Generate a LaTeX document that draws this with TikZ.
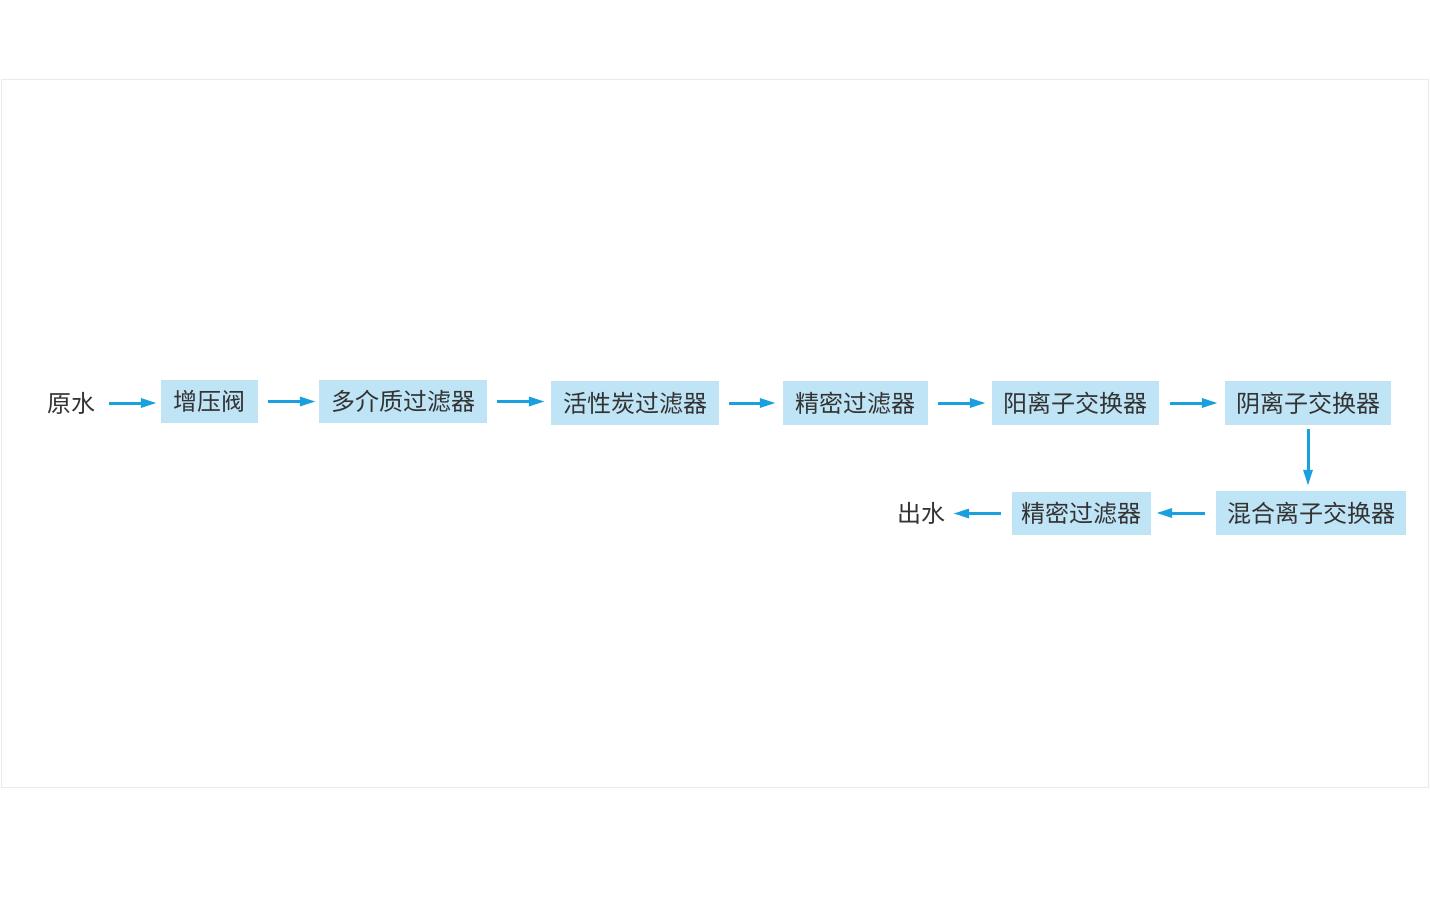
\documentclass[tikz,border=0pt]{standalone}
\usepackage{fontspec}
\setmainfont{Noto Sans CJK SC}
\usetikzlibrary{arrows.meta}
\definecolor{boxfill}{HTML}{BEE4F6}
\definecolor{arrowc}{HTML}{1BA0DF}
\definecolor{txt}{HTML}{333333}
\definecolor{frame}{HTML}{E4ECEC}
\begin{document}
\begin{tikzpicture}[x=1pt,y=-1pt,
  box/.style={fill=boxfill,inner sep=0pt,text=txt,font=\fontsize{24pt}{26pt}\selectfont},
  plain/.style={inner sep=0pt,text=txt,font=\fontsize{24pt}{26pt}\selectfont},
  arr/.style={draw=arrowc,line width=3pt,-{Triangle[length=16pt,width=9pt]}}]
\useasboundingbox (0,0) rectangle (1430,900);
\draw[frame,line width=1pt] (1,79.5) rectangle (1428.5,787);
\node[plain] (raw) at (71,403) {原水};
\node[box,minimum width=97pt,minimum height=43pt] (b1) at (209.5,401.5) {\raisebox{-2pt}{增压阀}};
\node[box,minimum width=168pt,minimum height=43pt] (b2) at (403,401.5) {\raisebox{-2pt}{多介质过滤器}};
\node[box,minimum width=168pt,minimum height=44pt] (b3) at (635,403) {\raisebox{-2pt}{活性炭过滤器}};
\node[box,minimum width=145pt,minimum height=44pt] (b4) at (855.5,403) {\raisebox{-2pt}{精密过滤器}};
\node[box,minimum width=167pt,minimum height=44pt] (b5) at (1075.5,403) {\raisebox{-2pt}{阳离子交换器}};
\node[box,minimum width=166pt,minimum height=44pt] (b6) at (1308,403) {\raisebox{-2pt}{阴离子交换器}};
\node[box,minimum width=190pt,minimum height=44pt] (b7) at (1311,513) {\raisebox{-2pt}{混合离子交换器}};
\node[box,minimum width=139pt,minimum height=43pt] (b8) at (1081.5,513.5) {\raisebox{-2pt}{精密过滤器}};
\node[plain] (out) at (921,513) {出水};
\draw[arr] ([xshift=14pt]raw.east) -- ([xshift=-4pt]raw.east -| b1.west);
\draw[arr] ([xshift=10pt]b1.east) -- ([xshift=-3pt]b1.east -| b2.west);
\draw[arr] ([xshift=10pt]b2.east) -- ([xshift=-6pt]b2.east -| b3.west);
\draw[arr] ([xshift=10pt]b3.east) -- ([xshift=-7pt]b3.east -| b4.west);
\draw[arr] ([xshift=10pt]b4.east) -- ([xshift=-6pt]b4.east -| b5.west);
\draw[arr] ([xshift=11pt]b5.east) -- ([xshift=-7pt]b5.east -| b6.west);
\draw[arr] ([yshift=-4pt]b6.south) -- ([yshift=5pt]b6.south |- b7.north);
\draw[arr] ([xshift=-11pt]b7.west) -- ([xshift=5pt]b7.west -| b8.east);
\draw[arr] ([xshift=-11pt]b8.west) -- ([xshift=8pt]b8.west -| out.east);
\end{tikzpicture}
\end{document}
